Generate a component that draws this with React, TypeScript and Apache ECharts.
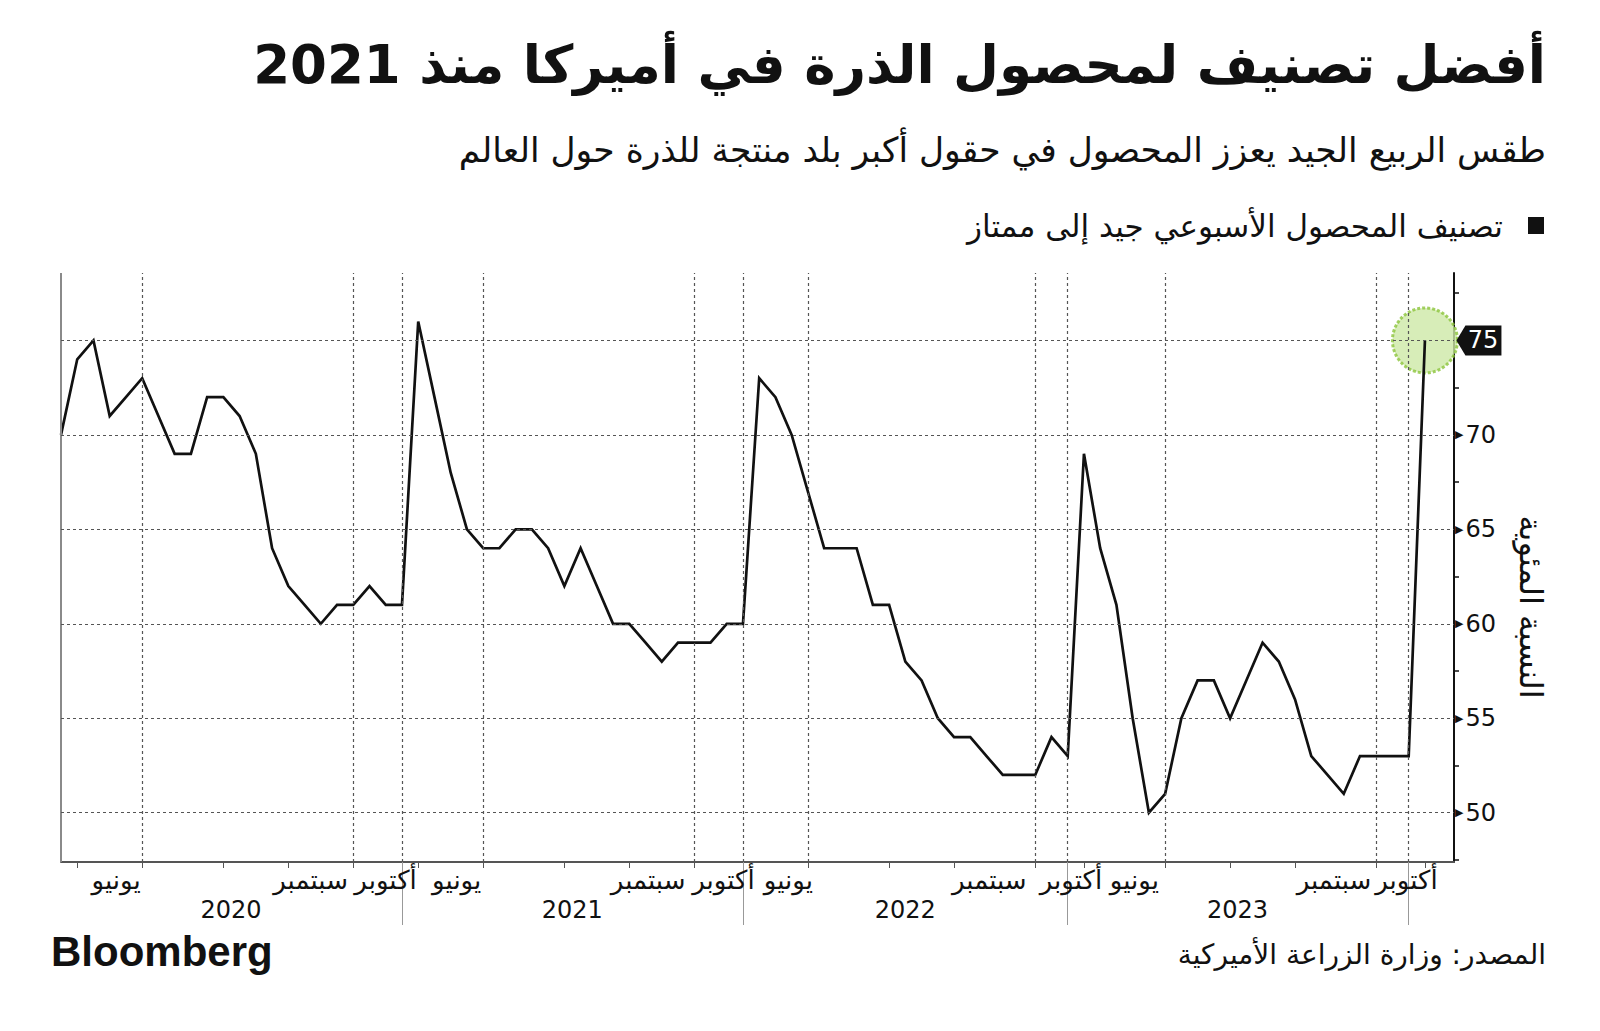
import React, { useEffect, useRef } from "react";
import * as echarts from "echarts";

// Weekly US corn crop rated good-to-excellent (%), seasons concatenated
const season2020 = [70, 74, 75, 71, 72, 73, 71, 69, 69, 72, 72, 71, 69, 64, 62, 61, 60, 61, 61, 62, 61, 61];
const season2021 = [76, 72, 68, 65, 64, 64, 65, 65, 64, 62, 64, 62, 60, 60, 59, 58, 59, 59, 59, 60, 60];
const season2022 = [73, 72, 70, 67, 64, 64, 64, 61, 61, 58, 57, 55, 54, 54, 53, 52, 52, 52, 54, 53];
const season2023 = [69, 64, 61, 55, 50, 51, 55, 57, 57, 55, 57, 59, 58, 56, 53, 52, 51, 53, 53, 53, 53];
const season2024 = [75];

// x-axis (week index) layout
const monthGridIdx = [5, 18, 21, 26, 39, 42, 46, 60, 62, 68, 81, 83];
const monthTickIdx = [1, 5, 10, 14, 18, 21, 22, 26, 31, 35, 39, 42, 46, 51, 55, 60, 62, 63, 68, 72, 76, 81, 83, 84];
const monthLabels = ["يونيو", "سبتمبر", "أكتوبر", "يونيو", "سبتمبر", "أكتوبر", "يونيو", "سبتمبر", "أكتوبر", "يونيو", "سبتمبر", "أكتوبر"];
const monthLabelIdx = [3.39, 15.37, 19.99, 24.37, 36.16, 40.8, 44.8, 57.17, 62.2, 66.1, 78.4, 82.86];
const yearLabels = ["2020", "2021", "2022", "2023"];
const yearLabelIdx = [10.47, 31.49, 52.0, 72.46];
const yearSepIdx = [21, 42, 62, 83];

// y-axis
const yTickLabels = [50, 55, 60, 65, 70];
const yMinorTicks = [47.5, 52.5, 57.5, 62.5, 67.5, 72.5, 77.5];
const yGridValues = [50, 55, 60, 65, 70, 75];

const TITLE = "أفضل تصنيف لمحصول الذرة في أميركا منذ 2021";
const SUBTITLE = "طقس الربيع الجيد يعزز المحصول في حقول أكبر بلد منتجة للذرة حول العالم";
const SERIES_NAME = "تصنيف المحصول الأسبوعي جيد إلى ممتاز";
const Y_NAME = "النسبة المئوية";
const SOURCE = "المصدر: وزارة الزراعة الأميركية";

const AR = '"DejaVu Sans", sans-serif';

export default function App() {
  const ref = useRef<HTMLDivElement>(null);
  useEffect(() => {
    document.body.style.margin = "0";
    if (!ref.current) return;
    const chart = echarts.init(ref.current, undefined, { renderer: "svg" });
    const all = [...season2020, ...season2021, ...season2022, ...season2023, ...season2024];
    const points = all.map((v, i) => [i, v]);
    const lastIdx = all.length - 1;
    const lastVal = all[lastIdx];
    const findLabel = (v: number, pos: number[], labels: string[]) => {
      let best = 0;
      let d = Infinity;
      pos.forEach((p, i) => {
        if (Math.abs(p - v) < d) {
          d = Math.abs(p - v);
          best = i;
        }
      });
      return labels[best];
    };
    const xMin = 0;
    const xMax = 85.79;
    const yMin = 47.39;
    const yMax = 78.57;

    chart.setOption({
      animation: false,
      backgroundColor: "#ffffff",
      title: [
        {
          text: TITLE,
          right: 54,
          top: 38,
          padding: 0,
          textStyle: { fontFamily: AR, fontSize: 53, fontWeight: "bold", color: "#111" },
        },
        {
          text: SUBTITLE,
          right: 54,
          top: 132,
          padding: 0,
          textStyle: { fontFamily: AR, fontSize: 34.5, fontWeight: "normal", color: "#111" },
        },
      ],
      legend: {
        data: [SERIES_NAME],
        right: 56,
        top: 210,
        padding: 0,
        icon: "rect",
        itemWidth: 16,
        itemHeight: 17,
        align: "right",
        selectedMode: false,
        textStyle: { fontFamily: AR, fontSize: 31, color: "#111", padding: [0, 20, 0, 0] },
      },
      grid: { left: 61, right: 146, top: 273, bottom: 169, containLabel: false },
      xAxis: [
        {
          type: "value",
          min: xMin,
          max: xMax,
          position: "bottom",
          splitLine: { show: false },
          axisLine: { show: true, onZero: false, lineStyle: { color: "#555", width: 2 } },
          axisTick: {
            show: true,
            customValues: monthTickIdx,
            length: 6,
            lineStyle: { color: "#555", width: 1 },
          },
          axisLabel: {
            show: true,
            customValues: monthLabelIdx,
            margin: 5,
            fontFamily: AR,
            fontSize: 26,
            color: "#111",
            formatter: (v: number) => findLabel(v, monthLabelIdx, monthLabels),
          },
        },
        {
          type: "value",
          min: xMin,
          max: xMax,
          position: "bottom",
          splitLine: { show: false },
          axisLine: { show: false, onZero: false },
          axisTick: {
            show: true,
            customValues: yearSepIdx,
            length: 63,
            lineStyle: { color: "#999", width: 1 },
          },
          axisLabel: {
            show: true,
            customValues: yearLabelIdx,
            margin: 36,
            fontFamily: AR,
            fontSize: 24,
            color: "#111",
            formatter: (v: number) => findLabel(v, yearLabelIdx, yearLabels),
          },
        },
      ],
      yAxis: [
        {
          type: "value",
          position: "right",
          min: yMin,
          max: yMax,
          splitLine: { show: false },
          axisLine: { show: true, onZero: false, lineStyle: { color: "#111", width: 2 } },
          axisTick: {
            show: true,
            customValues: yMinorTicks,
            length: 5,
            lineStyle: { color: "#111", width: 1.5 },
          },
          axisLabel: {
            show: true,
            customValues: yTickLabels,
            margin: 1,
            formatter: (v: number) => `{t|▶}{n|${v}}`,
            rich: {
              t: { fontSize: 11, color: "#111", padding: [0, 2, 0, 0], fontFamily: AR },
              n: { fontSize: 24, color: "#111", fontFamily: AR },
            },
          },
        },
      ],
      graphic: [
        {
          type: "text",
          x: 1531,
          y: 607,
          rotation: -Math.PI / 2,
          style: {
            text: Y_NAME,
            fontFamily: AR,
            fontSize: 32,
            fill: "#111",
            align: "center",
            verticalAlign: "middle",
          },
        },
        {
          type: "text",
          left: 51,
          top: 930,
          style: {
            text: "Bloomberg",
            fontFamily: '"Liberation Sans", Arial, sans-serif',
            fontWeight: "bold",
            fontSize: 42,
            fill: "#111",
          },
        },
        {
          type: "text",
          right: 54,
          top: 940,
          style: {
            text: SOURCE,
            fontFamily: AR,
            fontSize: 28,
            fill: "#111",
          },
        },
      ],
      series: [
        {
          type: "line",
          name: "grid",
          data: [],
          xAxisIndex: 0,
          yAxisIndex: 0,
          z: 1,
          silent: true,
          markLine: {
            silent: true,
            symbol: ["none", "none"],
            label: { show: false },
            lineStyle: { type: [3, 3], color: "#555", width: 1.2 },
            emphasis: { disabled: true },
            data: [
              { xAxis: 0, lineStyle: { type: "solid", color: "#8a8a8a", width: 2 } },
              ...monthGridIdx.map((v) => ({ xAxis: v })),
              ...yGridValues.map((v) => ({ yAxis: v })),
            ],
          },
        },
        {
          type: "scatter",
          name: "highlight",
          data: [[lastIdx, lastVal]],
          xAxisIndex: 0,
          yAxisIndex: 0,
          symbol: "circle",
          symbolSize: 65,
          z: 2,
          silent: true,
          itemStyle: {
            color: "#cde8a6",
            borderColor: "#8cc43c",
            borderWidth: 3,
            borderType: [3, 2],
          },
        },
        {
          type: "line",
          name: SERIES_NAME,
          data: points,
          xAxisIndex: 0,
          yAxisIndex: 0,
          z: 3,
          showSymbol: false,
          symbol: "none",
          color: "#111",
          lineStyle: { color: "#111", width: 2.7, join: "miter" },
          markPoint: {
            silent: true,
            symbol: "path://M0,15L9,0L45,0L45,30L9,30Z",
            symbolSize: [45, 30],
            symbolOffset: [54, 0],
            itemStyle: { color: "#111" },
            label: {
              show: true,
              position: "inside",
              color: "#fff",
              fontSize: 24,
              fontFamily: AR,
              offset: [4, 0],
              formatter: (p: any) => String(p.value),
            },
            data: [{ coord: [lastIdx, lastVal], value: lastVal }],
          },
        },
      ],
    });
    return () => chart.dispose();
  }, []);
  return <div ref={ref} style={{ width: 1600, height: 1031 }} />;
}
